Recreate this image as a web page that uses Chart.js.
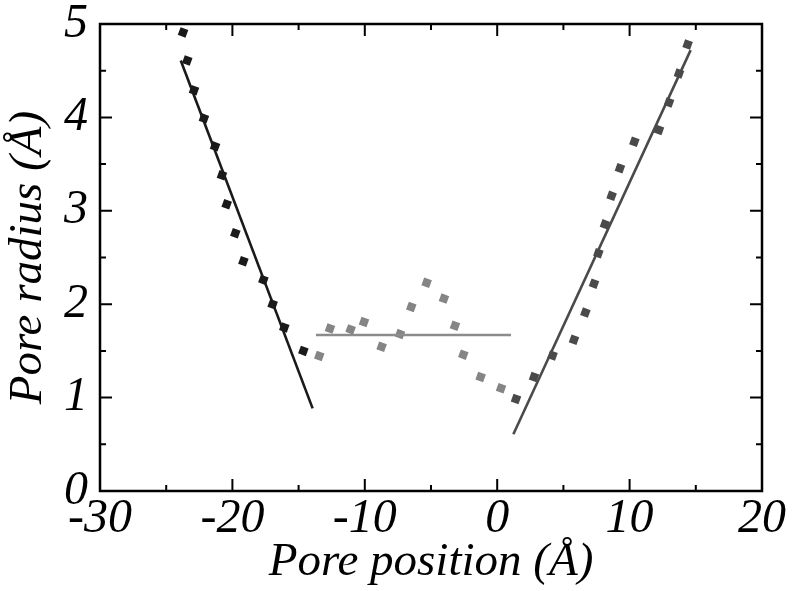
<!DOCTYPE html>
<html>
<head>
<meta charset="utf-8">
<script src="https://cdn.jsdelivr.net/npm/chart.js@4/dist/chart.umd.min.js"></script>
<style>
html,body{margin:0;padding:0;background:#fff;}
#wrap{width:793px;height:591px;position:relative;}
</style>
</head>
<body>
<div id="wrap"><canvas id="c" width="793" height="591"></canvas></div>
<script>
// ---- data ----
const leftX  = [-23.73,-23.41,-22.9,-22.15,-21.31,-20.79,-20.43,-19.78,-19.17,-17.66,-16.96,-16.08,-14.64];
const leftY  = [4.91,4.61,4.29,3.99,3.69,3.38,3.07,2.76,2.46,2.26,2.0,1.75,1.50];
const midX   = [-13.44,-12.63,-11.07,-10.06,-8.73,-7.34,-6.49,-5.33,-4.02,-3.19,-2.56,-1.25,0.29];
const midY   = [1.445,1.74,1.73,1.81,1.545,1.68,1.97,2.23,2.06,1.77,1.46,1.22,1.10];
const rightX = [1.42,2.78,4.18,5.80,6.66,7.31,7.64,8.14,8.64,9.27,10.36,12.22,12.98,13.73,14.38];
const rightY = [0.985,1.22,1.45,1.62,1.91,2.22,2.545,2.855,3.16,3.455,3.74,3.865,4.16,4.47,4.78];
const leftFitX  = [-23.9,-13.94];
const leftFitY  = [4.61,0.885];
const midFitX   = [-13.69,1.04];
const midFitY   = [1.67,1.67];
const rightFitX = [1.22,14.61];
const rightFitY = [0.607,4.72];
const xTicks = [-30,-20,-10,0,10,20];
const yTicks = [0,1,2,3,4,5];
const xTitle = 'Pore position (Å)';
const yTitle = 'Pore radius (Å)';

const pts = (xs, ys) => xs.map((x, i) => ({x, y: ys[i]}));

const FONT = "'Liberation Serif', 'Times New Roman', Times, serif";

const boxTicks = {
  id: 'boxTicks',
  afterDraw(chart) {
    const {ctx, chartArea: a, scales: {x, y}} = chart;
    ctx.save();
    ctx.strokeStyle = '#000';
    ctx.lineWidth = 2.5;
    ctx.strokeRect(a.left, a.top, a.right - a.left, a.bottom - a.top);
    ctx.lineWidth = 2;
    ctx.beginPath();
    for (let v = -30; v <= 20; v += 5) {
      const px = x.getPixelForValue(v);
      const len = (v % 10 === 0) ? 12 : 6;
      ctx.moveTo(px, a.bottom); ctx.lineTo(px, a.bottom - len);
      ctx.moveTo(px, a.top); ctx.lineTo(px, a.top + len);
    }
    for (let v = 0; v <= 5; v += 0.5) {
      const py = y.getPixelForValue(v);
      const len = (Math.abs(v - Math.round(v)) < 1e-6) ? 12 : 6;
      ctx.moveTo(a.left, py); ctx.lineTo(a.left + len, py);
      ctx.moveTo(a.right, py); ctx.lineTo(a.right - len, py);
    }
    ctx.stroke();
    ctx.restore();
  }
};

const ptDs = (label, xs, ys, color) => ({
  label, data: pts(xs, ys), showLine: false,
  pointStyle: 'rect', pointRadius: 5.8, pointRotation: 20,
  pointBackgroundColor: color, pointBorderColor: color, pointBorderWidth: 0
});
const lineDs = (label, xs, ys, color) => ({
  label, data: pts(xs, ys), showLine: true, borderColor: color, borderWidth: 2.6,
  pointRadius: 0, fill: false
});

function build() {
  new Chart(document.getElementById('c'), {
    type: 'scatter',
    data: {
      datasets: [
        lineDs('left fit', leftFitX, leftFitY, '#1a1a1a'),
        lineDs('middle fit', midFitX, midFitY, '#8c8c8c'),
        lineDs('right fit', rightFitX, rightFitY, '#4a4a4a'),
        ptDs('left', leftX, leftY, '#1a1a1a'),
        ptDs('middle', midX, midY, '#858585'),
        ptDs('right', rightX, rightY, '#4a4a4a')
      ]
    },
    options: {
      responsive: false,
      animation: false,
      layout: {padding: {top: 24, right: 31, left: 0, bottom: 0}},
      plugins: {legend: {display: false}, tooltip: {enabled: false}},
      scales: {
        x: {
          type: 'linear', min: -30, max: 20,
          afterBuildTicks: s => { s.ticks = xTicks.map(v => ({value: v})); },
          afterFit: s => { s.height = 100; s.paddingLeft = 0; s.paddingRight = 0; },
          grid: {display: false, drawTicks: false},
          border: {display: false},
          ticks: {color: '#000', padding: 0, maxRotation: 0, autoSkip: false,
            font: {family: FONT, style: 'italic', size: 48}},
          title: {display: true, text: xTitle, color: '#000', padding: {top: -6, bottom: 0},
            font: {family: FONT, style: 'italic', size: 47}}
        },
        y: {
          type: 'linear', min: 0, max: 5,
          afterBuildTicks: s => { s.ticks = yTicks.map(v => ({value: v})); },
          afterFit: s => { s.width = 100; s.paddingTop = 0; s.paddingBottom = 0; },
          grid: {display: false, drawTicks: false},
          border: {display: false},
          ticks: {color: '#000', padding: 12, autoSkip: false,
            font: {family: FONT, style: 'italic', size: 48}},
          title: {display: true, text: yTitle, color: '#000', padding: {top: 0, bottom: 0},
            font: {family: FONT, style: 'italic', size: 47}}
        }
      }
    },
    plugins: [boxTicks]
  });
}

if (document.fonts && document.fonts.load) {
  document.fonts.load("italic 48px 'Liberation Serif'", 'Pore 0123456789Å').then(build, build);
} else {
  build();
}
</script>
</body>
</html>
